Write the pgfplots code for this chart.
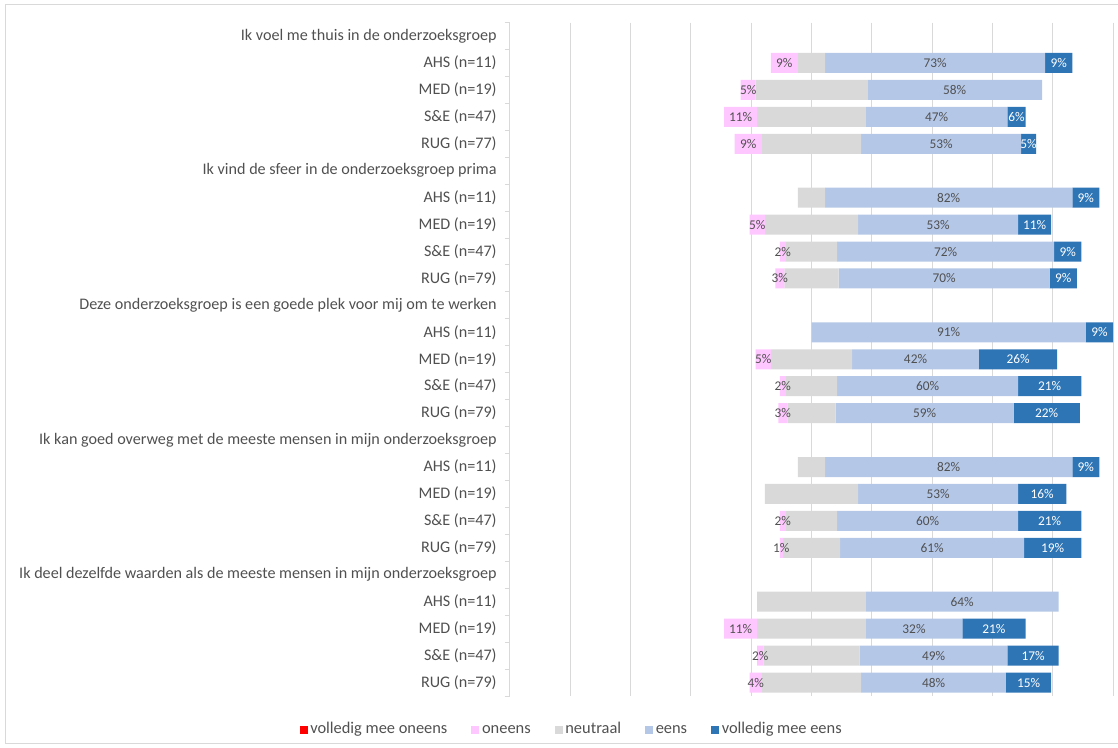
\documentclass[border=0pt]{standalone}
\usepackage{fontspec}
\setmainfont{Carlito}
\usepackage{pgfplots}
\usepackage{pgfplotstable}
\pgfplotsset{compat=1.18}
\definecolor{vmored}{RGB}{255,0,0}
\definecolor{oneens}{RGB}{255,199,255}
\definecolor{neutraal}{RGB}{217,217,217}
\definecolor{eens}{RGB}{180,199,231}
\definecolor{vmeens}{RGB}{46,117,182}
\definecolor{lbl}{RGB}{80,80,80}
\definecolor{gridc}{RGB}{217,217,217}
\newcommand\pctlabel{\pgfmathfloattoint{\pgfplotspointmeta}\ifnum\pgfmathresult>0 \pgfmathresult\%\fi}
% x axis runs 0..200 with the neutral midpoint at 100; "off" is the invisible lead-in bar
\pgfplotstableread{
row off vmo o n e vme
0 0 0 0 0 0 0
1 86.5 0 9 9 73 9
2 76.5 0 5 37 58 0
3 71 0 11 36 47 6
4 74.5 0 9 33 53 5
5 0 0 0 0 0 0
6 95.5 0 0 9 82 9
7 79.5 0 5 31 53 11
8 89.5 0 2 17 72 9
9 88 0 3 18 70 9
10 0 0 0 0 0 0
11 100 0 0 0 91 9
12 81.5 0 5 27 42 26
13 89.5 0 2 17 60 21
14 89 0 3 16 59 22
15 0 0 0 0 0 0
16 95.5 0 0 9 82 9
17 84.5 0 0 31 53 16
18 89.5 0 2 17 60 21
19 89.5 0 1 19 61 19
20 0 0 0 0 0 0
21 82 0 0 36 64 0
22 71 0 11 36 32 21
23 82 0 2 32 49 17
24 79.5 0 4 33 48 15
}\data
\begin{document}
\begin{tikzpicture}
\useasboundingbox (0,0) rectangle (838.5pt,560.25pt);
\draw[gridc, line width=0.75pt] (838.5pt,556.5pt) -- (3.75pt,556.5pt) -- (3.75pt,3pt) -- (838.5pt,3pt);
\begin{axis}[
  at={(382.5pt,38.25pt)}, anchor=south west,
  scale only axis, width=452.25pt, height=505.1pt,
  xbar stacked, bar width=15pt,
  xmin=0, xmax=200, ymin=-0.5, ymax=24.5, y dir=reverse,
  xtick={0,20,...,200}, xticklabels={},
  xmajorgrids, grid style={gridc, line width=0.75pt},
  major tick length=0pt,
  ytick={0,...,24},
  yticklabels={Ik voel me thuis in de onderzoeksgroep, AHS (n=11), MED (n=19), S\&E (n=47), RUG (n=77),
    Ik vind de sfeer in de onderzoeksgroep prima, AHS (n=11), MED (n=19), S\&E (n=47), RUG (n=79),
    Deze onderzoeksgroep is een goede plek voor mij om te werken, AHS (n=11), MED (n=19), S\&E (n=47), RUG (n=79),
    Ik kan goed overweg met de meeste mensen in mijn onderzoeksgroep, AHS (n=11), MED (n=19), S\&E (n=47), RUG (n=79),
    Ik deel dezelfde waarden als de meeste mensen in mijn onderzoeksgroep, AHS (n=11), MED (n=19), S\&E (n=47), RUG (n=79)},
  minor ytick={-0.5,0.5,...,24.5},
  minor tick length=4pt,
  minor tick style={gridc, line width=0.75pt},
  ytick pos=left, tick align=outside,
  axis line style={draw=none},
  yticklabel style={font=\fontsize{12.1}{14}\selectfont, text=lbl, xshift=-6.5pt},
  point meta=explicit,
  nodes near coords={\pctlabel},
  every node near coord/.append style={font=\fontsize{10}{12}\selectfont, text=lbl},
  legend columns=-1,
  legend style={at={(0.1028,-0.05)}, anchor=center, draw=none, fill=none,
    font=\fontsize{12.3}{14}\selectfont, text=lbl,
    nodes={inner xsep=2pt, text height=8.5pt, text depth=2.5pt},
    /tikz/every even column/.append style={column sep=16pt}},
  legend image code/.code={\fill[#1] (0pt,-3pt) rectangle (6pt,3pt);},
]
\addplot[draw=none, fill=none, forget plot, nodes near coords={}] table[x=off, y=row, meta=off] {\data};
\addplot[draw=none, fill=vmored] table[x=vmo, y=row, meta=vmo] {\data};
\addlegendentry{volledig mee oneens}
\addplot[draw=none, fill=oneens] table[x=o, y=row, meta=o] {\data};
\addlegendentry{oneens}
\addplot[draw=none, fill=neutraal, nodes near coords={}] table[x=n, y=row, meta=n] {\data};
\addlegendentry{neutraal}
\addplot[draw=none, fill=eens] table[x=e, y=row, meta=e] {\data};
\addlegendentry{eens}
\addplot[draw=none, fill=vmeens, every node near coord/.append style={text=white}] table[x=vme, y=row, meta=vme] {\data};
\addlegendentry{volledig mee eens}
\end{axis}
\end{tikzpicture}
\end{document}
